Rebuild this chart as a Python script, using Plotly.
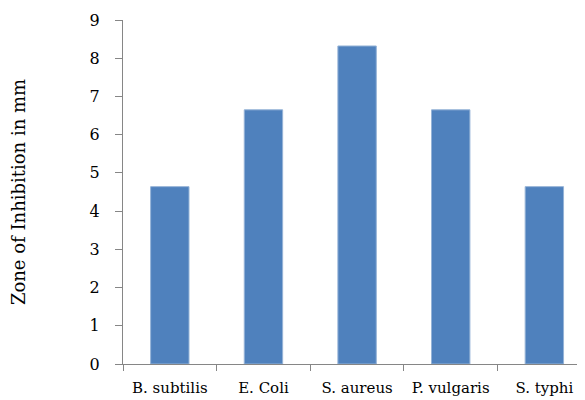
import plotly.graph_objects as go

categories = ["B. subtilis", "E. Coli", "S. aureus", "P. vulgaris", "S. typhi"]
zone_mm = [4.64, 6.65, 8.32, 6.65, 4.64]
y_ticks = list(range(0, 10))

fig = go.Figure(go.Bar(
    x=categories, y=zone_mm,
    marker=dict(color="#4F81BD", line=dict(color="#95B3D7", width=1)),
    hoverinfo="skip",
))

axis_col = "#868686"
fig.update_layout(
    width=577, height=392,
    margin=dict(l=115, r=0, t=12, b=36),
    paper_bgcolor="white", plot_bgcolor="white",
    bargap=0.59, showlegend=False,
    font=dict(family="DejaVu Serif", color="black"),
)
fig.update_xaxes(
    type="category", range=[-0.5, 4.434], automargin=False,
    showline=True, linecolor=axis_col, linewidth=1,
    ticks="outside", tickson="boundaries", ticklen=6, tickcolor=axis_col,
    tickfont=dict(size=15, family="DejaVu Serif"),
    ticklabelstandoff=10,
    showgrid=False, zeroline=False,
)
fig.update_yaxes(
    range=[0, 9], tickvals=y_ticks, automargin=False,
    showline=True, linecolor=axis_col, linewidth=1,
    ticks="outside", ticklen=7, tickcolor=axis_col,
    tickfont=dict(size=16, family="DejaVu Serif"),
    ticklabelstandoff=12,
    showgrid=False, zeroline=False,
    title=dict(text="Zone of Inhibition in mm", font=dict(size=18, family="DejaVu Serif"), standoff=68),
)
fig.write_html("out.html")
